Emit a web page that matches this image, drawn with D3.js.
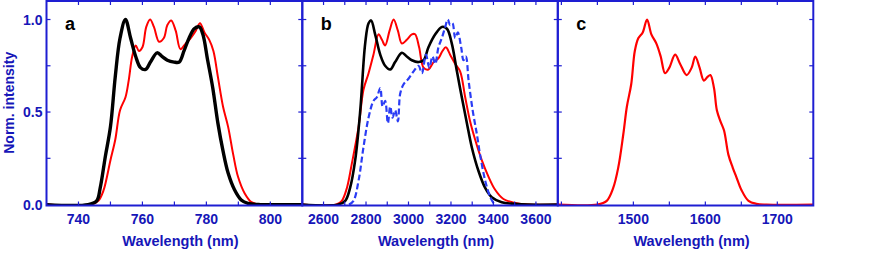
<!DOCTYPE html>
<html lang="en">
<head>
<meta charset="UTF-8">
<title>Spectra</title>
<script src="https://d3js.org/d3.v7.min.js"></script>
<style>
  body { margin: 0; background: #fff; }
  svg text { font-family: "Liberation Sans", Arial, sans-serif; font-weight: bold; }
</style>
</head>
<body>
<script>
// Panel a : [wavelength nm, normalised intensity]
const aBlack = [[730,0],[743,0],[745.7,0.02],[746.8,0.09],[748.4,0.26],[750,0.42],[751.5,0.69],[753,0.9],
  [754.7,1.0],[756.3,0.9],[757.9,0.8],[759.4,0.74],[761,0.73],[762.5,0.77],[764.6,0.82],[766.2,0.8],
  [767.8,0.78],[769.9,0.77],[771.5,0.77],[773,0.83],[774.6,0.9],[776.2,0.95],[777.8,0.96],[778.9,0.92],
  [780.4,0.78],[782,0.63],[783.6,0.44],[785.2,0.29],[786.8,0.17],[788.8,0.08],[790.9,0.025],[793,0.007],
  [797,0],[810,0]];
const aRed = [[730,0],[744,0],[746.2,0.02],[747.8,0.075],[750,0.24],[751.5,0.35],[753,0.51],[754.7,0.58],
  [755.7,0.67],[756.8,0.8],[757.9,0.86],[758.9,0.83],[760,0.85],[761.2,0.96],[762.4,1.0],[763.6,0.96],
  [765.2,0.88],[766.7,0.9],[767.8,0.97],[769,0.995],[770.4,0.94],[771.9,0.84],[773.5,0.87],[775.1,0.9],
  [776.7,0.94],[778,0.98],[779.4,0.93],[780.9,0.89],[782.2,0.83],[783.6,0.69],[785.2,0.53],[786.8,0.42],
  [788.4,0.27],[789.9,0.15],[792,0.06],[794.1,0.013],[797,0],[810,0]];

// Panel b
const bBlack = [[2500,0],[2670,0],[2702,0.02],[2725,0.09],[2749,0.24],[2773,0.51],[2796,0.87],[2812,0.98],
  [2824,0.995],[2843,0.92],[2867,0.81],[2890,0.75],[2914,0.73],[2937,0.77],[2969,0.82],[2992,0.8],
  [3016,0.78],[3047,0.77],[3071,0.78],[3094,0.85],[3126,0.92],[3157,0.96],[3181,0.95],[3204,0.87],
  [3228,0.72],[3251,0.58],[3275,0.44],[3298,0.31],[3330,0.18],[3361,0.09],[3392,0.04],[3439,0.013],
  [3502,0.004],[3560,0],[3705,0]];
const bRed = [[2500,0],[2660,0],[2686,0.02],[2710,0.09],[2733,0.22],[2765,0.42],[2788,0.62],[2812,0.71],
  [2835,0.81],[2859,0.92],[2875,0.89],[2890,0.86],[2911,0.94],[2930,1.0],[2950,0.94],[2969,0.87],
  [2992,0.89],[3016,0.92],[3031,0.92],[3050,0.85],[3071,0.74],[3094,0.73],[3118,0.77],[3141,0.79],
  [3160,0.83],[3176,0.85],[3196,0.81],[3220,0.76],[3243,0.72],[3267,0.58],[3290,0.45],[3314,0.35],
  [3345,0.24],[3377,0.15],[3408,0.08],[3447,0.03],[3502,0.009],[3565,0],[3705,0]];
const bBlue = [[2720,0],[2741,0.02],[2765,0.13],[2788,0.31],[2812,0.47],[2835,0.56],[2851,0.58],[2867,0.63],
  [2878,0.53],[2890,0.56],[2903,0.44],[2914,0.53],[2925,0.47],[2937,0.51],[2950,0.45],[2961,0.6],
  [2977,0.65],[3000,0.68],[3024,0.72],[3047,0.75],[3063,0.71],[3082,0.81],[3098,0.74],[3113,0.8],
  [3126,0.76],[3141,0.85],[3157,0.9],[3173,0.96],[3185,1.0],[3196,0.97],[3207,0.98],[3220,0.9],
  [3232,0.93],[3248,0.85],[3259,0.78],[3270,0.8],[3283,0.67],[3302,0.51],[3322,0.38],[3337,0.27],
  [3361,0.13],[3385,0.04],[3405,0]];

// Panel c
const cRed = [[1395,0],[1450,0],[1463,0.02],[1472,0.09],[1479,0.2],[1486,0.38],[1491,0.53],[1497,0.65],
  [1502,0.83],[1507,0.9],[1513,0.93],[1519,1.0],[1525,0.92],[1532,0.87],[1538,0.8],[1544,0.71],
  [1550,0.74],[1558,0.81],[1565,0.76],[1574,0.7],[1581,0.74],[1586,0.8],[1592,0.74],[1598,0.67],
  [1603,0.69],[1607,0.7],[1612,0.63],[1616,0.51],[1621,0.45],[1626,0.4],[1632,0.27],[1638,0.2],
  [1643,0.15],[1650,0.08],[1660,0.02],[1671,0.004],[1685,0],[1750,0]];

const aTicks = [740, 760, 780, 800];
const bTicks = [2600, 2800, 3000, 3200, 3400, 3600];
const cTicks = [1500, 1600, 1700];
const yTicks = [0, 0.5, 1.0];

const W = 872, H = 254;
const axisBlue = "#1e1ed2";
const textBlue = "#1616b8";

const svg = d3.select("body").append("svg")
  .attr("width", W).attr("height", H);

const y = d3.scaleLinear().domain([-0.005, 1.1]).range([205.5, 1]);

const panels = [
  { id: "a", domain: [730, 810], range: [46.5, 302.3], ticks: aTicks, minor: 10,
    series: [{ d: aRed, c: "#ff0000", w: 2 }, { d: aBlack, c: "#000", w: 3.4 }] },
  { id: "b", domain: [2500, 3703], range: [302.3, 557.8], ticks: bTicks, minor: 100,
    series: [{ d: bRed, c: "#ff0000", w: 2 }, { d: bBlack, c: "#000", w: 2.6 },
             { d: bBlue, c: "#2a3cf5", w: 2.2, dash: "6,3" }] },
  { id: "c", domain: [1395, 1750], range: [557.8, 813.3], ticks: cTicks, minor: 50,
    series: [{ d: cRed, c: "#ff0000", w: 2.2 }] }
];

panels.forEach((p, i) => {
  const x = d3.scaleLinear().domain(p.domain).range(p.range);
  const g = svg.append("g");
  const [x0, x1] = p.range;
  const [yb, yt] = y.range();

  g.append("clipPath").attr("id", "clip-" + p.id)
    .append("rect").attr("x", x0).attr("y", yt).attr("width", x1 - x0).attr("height", yb - yt);

  const line = d3.line()
    .x(d => x(d[0])).y(d => y(d[1]))
    .curve(d3.curveCatmullRom.alpha(0.5));

  const plot = g.append("g").attr("clip-path", `url(#clip-${p.id})`);
  p.series.forEach(s => {
    plot.append("path").datum(s.d)
      .attr("d", line)
      .attr("fill", "none")
      .attr("stroke", s.c)
      .attr("stroke-width", s.w)
      .attr("stroke-linejoin", "round")
      .attr("stroke-dasharray", s.dash || null);
  });

  // minor + major x ticks, bottom & top, pointing inward
  const first = Math.ceil(p.domain[0] / p.minor) * p.minor;
  const xt = d3.range(first, p.domain[1] + 0.001, p.minor).filter(v => x(v) > x0 + 1 && x(v) < x1 - 1);
  const tl = 4;
  g.selectAll(".xtb").data(xt).enter().append("line")
    .attr("x1", d => x(d)).attr("x2", d => x(d))
    .attr("y1", yb).attr("y2", yb - tl)
    .attr("stroke", axisBlue).attr("stroke-width", 1.2);
  g.selectAll(".xtt").data(xt).enter().append("line")
    .attr("x1", d => x(d)).attr("x2", d => x(d))
    .attr("y1", yt).attr("y2", yt + tl)
    .attr("stroke", axisBlue).attr("stroke-width", 1.2);

  // y ticks left & right
  const yt2 = [0.25, 0.5, 0.75, 1.0];
  g.selectAll(".ytl").data(yt2).enter().append("line")
    .attr("x1", x0).attr("x2", x0 + tl)
    .attr("y1", d => y(d)).attr("y2", d => y(d))
    .attr("stroke", axisBlue).attr("stroke-width", 1.2);
  g.selectAll(".ytr").data(yt2).enter().append("line")
    .attr("x1", x1).attr("x2", x1 - tl)
    .attr("y1", d => y(d)).attr("y2", d => y(d))
    .attr("stroke", axisBlue).attr("stroke-width", 1.2);

  // frame
  g.append("rect")
    .attr("x", x0).attr("y", yt).attr("width", x1 - x0).attr("height", yb - yt)
    .attr("fill", "none").attr("stroke", axisBlue).attr("stroke-width", 2);

  // tick labels
  g.selectAll(".xl").data(p.ticks).enter().append("text")
    .attr("x", d => x(d)).attr("y", 224)
    .attr("text-anchor", "middle")
    .attr("font-size", 14).attr("fill", textBlue)
    .text(d => d);

  g.append("text")
    .attr("x", (x0 + x1) / 2 + 6).attr("y", 246)
    .attr("text-anchor", "middle")
    .attr("font-size", 14.5).attr("fill", textBlue)
    .text("Wavelength (nm)");

  g.append("text")
    .attr("x", x0 + 18.5).attr("y", 30)
    .attr("font-size", 18).attr("fill", "#000")
    .text(p.id);

  if (i === 0) {
    g.selectAll(".yl").data(yTicks).enter().append("text")
      .attr("x", x0 - 4).attr("y", d => y(d) + 5)
      .attr("text-anchor", "end")
      .attr("font-size", 14).attr("fill", textBlue)
      .text(d => d3.format(".1f")(d));
    g.append("text")
      .attr("transform", `translate(14, ${y(0.55)}) rotate(-90)`)
      .attr("text-anchor", "middle")
      .attr("font-size", 14).attr("fill", textBlue)
      .text("Norm. intensity");
  }
});
</script>
</body>
</html>
